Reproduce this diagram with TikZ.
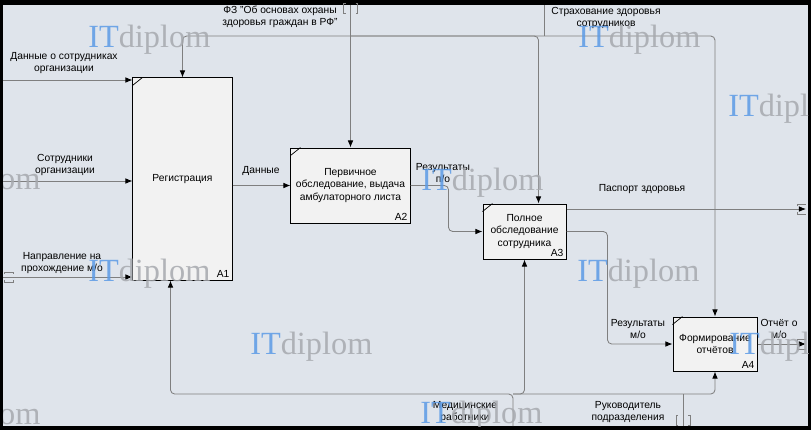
\documentclass[tikz,border=0pt]{standalone}
\usepackage{fontspec}
\setmainfont{Liberation Sans}
\newfontfamily\wmfont{Liberation Serif}
\usetikzlibrary{arrows.meta}

\definecolor{bg}{HTML}{DFE4EB}
\definecolor{boxfill}{HTML}{F2F2F2}
\definecolor{wire}{HTML}{7F7F7F}
\definecolor{wmblue}{HTML}{5C9BE6}
\definecolor{wmgray}{HTML}{A6A9AE}
\newcommand\lblfont{\fontsize{7.3}{8.9}\selectfont}

\begin{document}
\begin{tikzpicture}[x=0.025cm, y=-0.025cm,
	func/.style={draw, fill=boxfill, line width=0.7pt, align=center, inner sep=0pt, font=\lblfont},
	num/.style={anchor=south east, inner sep=2pt, font=\lblfont},
	flow/.style={draw=wire, line width=0.6pt, rounded corners=3pt, -{Latex[color=black, length=5pt, width=4pt]}},
	plain/.style={draw=wire, line width=0.6pt, rounded corners=3pt},
	lbl/.style={align=center, inner sep=0pt, font=\lblfont},
	tunnel/.style={draw=wire, line width=0.5pt},
	wm/.style={anchor=base west, inner sep=0pt, opacity=0.85, font=\wmfont\fontsize{23}{23}\selectfont}]

	% frame
	\fill[black] (0,0) rectangle (811,430);
	\fill[bg] (3,5) rectangle (808,426);

	% functions
	\node[func, minimum width=2.475cm, minimum height=5.05cm] (a1) at (182.5,179) {Регистрация};
	\node[func, minimum width=2.975cm, minimum height=1.875cm] (a2) at (350.5,185.5) {Первичное\\обследование, выдача\\амбулаторного листа};
	\node[func, minimum width=2.075cm, minimum height=1.375cm] (a3) at (524.5,231.5) {Полное\\обследование\\сотрудника};
	\node[func, minimum width=2.1cm, minimum height=1.35cm] (a4) at (715,344) {Формирование\\отчётов};
	\foreach \b/\t in {a1/A1, a2/A2, a3/A3, a4/A4} {
		\node[num] (n\t) at (\b.south east) {\t};
		\draw[line width=0.5pt] (\b.north west) ++(0,8) -- ++(10,-8);
	}

	% inputs
	\coordinate (in1) at (3,80);
	\coordinate (in2) at (3,181);
	\coordinate (in3) at (3,277);
	\draw[flow] (in1) -- (in1 -| a1.west);
	\draw[flow] (in2) -- (in2 -| a1.west);
	\draw[flow] (in3) -- (in3 -| a1.west);
	\draw[tunnel] (in3) ++(1,-3) -- ++(0,-2) -- ++(9,0) -- ++(0,2);
	\draw[tunnel] (in3) ++(1,3) -- ++(0,2) -- ++(9,0) -- ++(0,-2);

	% flows between functions
	\draw[flow] (a1.east |- a2.west) -- (a2.west);
	\draw[flow] (a2.east) -- ++(38,0) |- (a3.west);
	\draw[flow] (a3.east) -- ++(41,0) |- (a4.west);

	% outputs
	\coordinate (out1) at (806,209);
	\coordinate (out2) at (806,344);
	\draw[flow] (a3.east |- out1) -- (out1);
	\draw[flow] (a4.east) -- (out2);
	\foreach \o in {out1, out2} {
		\draw[tunnel] (\o) ++(-9,-3) -- ++(0,-2) -- ++(9,0);
		\draw[tunnel] (\o) ++(-9,3) -- ++(0,2) -- ++(9,0);
	}

	% controls
	\coordinate (ctl1) at (a2.north |- 0,5);
	\coordinate (j1) at (a2.north |- 0,36);
	\coordinate (ctl2) at (544,5);
	\draw[flow] (ctl1) -- (a2.north);
	\draw[flow] (j1) -| (a1.north);
	\draw[flow] (j1) -| ([xshift=0.35cm]a3.north);
	\draw[flow] (j1) -| (a4.north);
	\draw[plain] (ctl2) -- (ctl2 |- j1);
	\draw[tunnel] (ctl1) ++(-5,-2) -- ++(-2,0) -- ++(0,10) -- ++(2,0);
	\draw[tunnel] (ctl1) ++(5,-2) -- ++(2,0) -- ++(0,10) -- ++(-2,0);

	% mechanisms
	\coordinate (m1) at (513,426);
	\coordinate (j2) at (m1 |- 0,394);
	\coordinate (m2) at (683,426);
	\draw[flow] (m1) -- (j2) -| ([xshift=-0.3cm]a1.south);
	\draw[flow] (j2) -| (a3.south);
	\draw[flow] (j2) -| (a4.south);
	\draw[plain] (m2) -- (m2 |- j2);
	\draw[tunnel] (m2) ++(-5,-1) -- ++(-2,0) -- ++(0,-10) -- ++(2,0);
	\draw[tunnel] (m2) ++(5,-1) -- ++(2,0) -- ++(0,-10) -- ++(-2,0);

	% labels
	\node[lbl] (l-in1) at (64,63) {Данные о сотрудниках\\организации};
	\node[lbl] (l-in2) at (65,165) {Сотрудники\\организации};
	\node[lbl] (l-in3) at (62,263) {Направление на\\прохождение м/о};
	\node[lbl] (l-data) at (261,171) {Данные};
	\node[lbl] (l-res1) at (443,173) {Результаты\\п/о};
	\node[lbl] (l-pass) at (642,189) {Паспорт здоровья};
	\node[lbl] (l-res2) at (638,329) {Результаты\\м/о};
	\node[lbl] (l-rep) at (779,329) {Отчёт о\\м/о};
	\node[lbl] (l-law) at (280,17) {ФЗ "Об основах охраны\\здоровья граждан в РФ"};
	\node[lbl] (l-ins) at (606,18) {Страхование здоровья\\сотрудников};
	\node[lbl] (l-med) at (465,412) {Медицинские\\работники};
	\node[lbl] (l-head) at (628,412) {Руководитель\\подразделения};

	% watermarks
	\begin{scope}
		\clip (3,5) rectangle (808,426);
		\foreach \x/\y [count=\i] in {88/47, 578/47, 728/116, -82/189, 421/190, 88/281, 577/281, 250/354, 729/354, -82/424, 420/423}
			\node[wm] (w\i) at (\x,\y) {\textcolor{wmblue}{IT}\textcolor{wmgray}{diplom}};
	\end{scope}
\end{tikzpicture}
\end{document}
